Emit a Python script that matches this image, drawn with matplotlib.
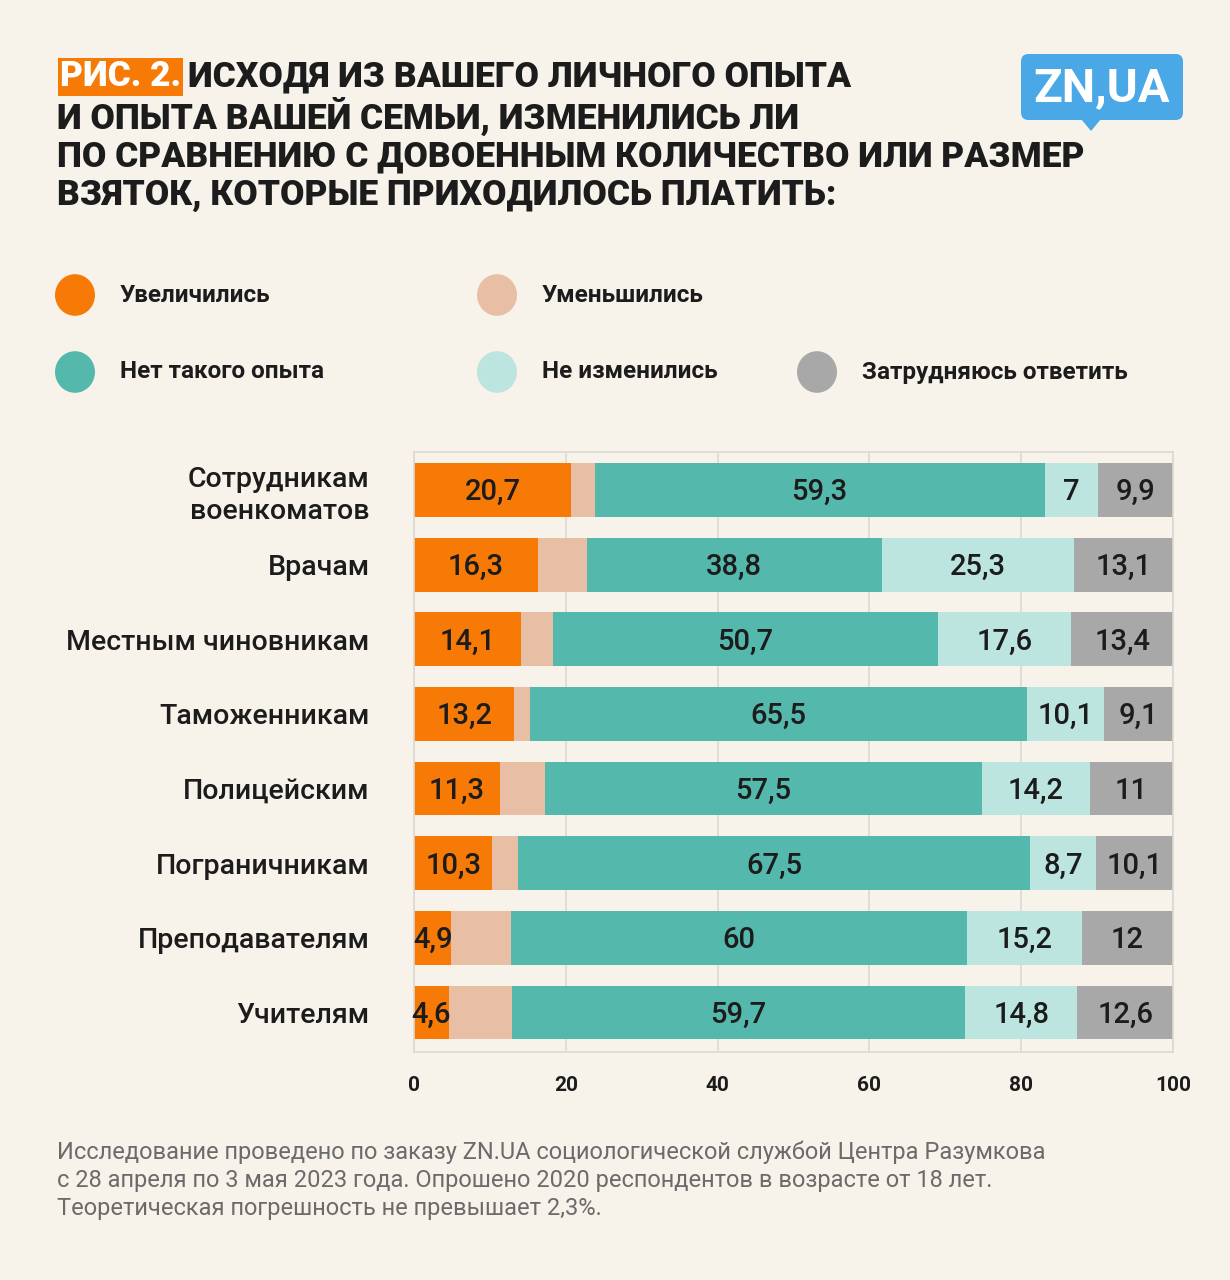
import matplotlib
matplotlib.use("Agg")
import matplotlib.pyplot as plt
from matplotlib.patches import FancyBboxPatch, Polygon, Circle

plt.rcParams['font.family'] = ['Roboto', 'DejaVu Sans']

# data (percent); "decreased" is the unlabeled remainder
categories = ["Сотрудникам\nвоенкоматов", "Врачам", "Местным чиновникам", "Таможенникам",
              "Полицейским", "Пограничникам", "Преподавателям", "Учителям"]
increased = [20.7, 16.3, 14.1, 13.2, 11.3, 10.3, 4.9, 4.6]
decreased = [3.1, 6.5, 4.2, 2.1, 6.0, 3.4, 7.9, 8.3]
no_exp = [59.3, 38.8, 50.7, 65.5, 57.5, 67.5, 60, 59.7]
unchanged = [7, 25.3, 17.6, 10.1, 14.2, 8.7, 15.2, 14.8]
hard = [9.9, 13.1, 13.4, 9.1, 11, 10.1, 12, 12.6]

series_names = ["Увеличились", "Уменьшились", "Нет такого опыта", "Не изменились", "Затрудняюсь ответить"]
series = [increased, decreased, no_exp, unchanged, hard]
colors = ["#f77a06", "#e8bea5", "#55b8ac", "#bce5e0", "#a8a8a8"]
show_label = [True, False, True, True, True]
ticks = [0, 20, 40, 60, 80, 100]

BG = "#f7f2ea"
DARK = "#1c1c1c"
W, H = 1230, 1280

fig = plt.figure(figsize=(W / 100, H / 100), dpi=100, facecolor=BG)

def fx(x):
  return x / W

def fy(y):
  return 1 - y / H

# title
fig.text(fx(60), fy(77), "РИС. 2.", color="white", fontsize=25.5, fontweight="heavy",
         va="center", ha="left",
         bbox=dict(boxstyle="square,pad=0.06", fc="#f77a06", ec="none"))
title_lines = ["ИСХОДЯ ИЗ ВАШЕГО ЛИЧНОГО ОПЫТА",
               "И ОПЫТА ВАШЕЙ СЕМЬИ, ИЗМЕНИЛИСЬ ЛИ",
               "ПО СРАВНЕНИЮ С ДОВОЕННЫМ КОЛИЧЕСТВО ИЛИ РАЗМЕР",
               "ВЗЯТОК, КОТОРЫЕ ПРИХОДИЛОСЬ ПЛАТИТЬ:"]
title_y = [77, 116, 157, 196]
for i, (line, yy) in enumerate(zip(title_lines, title_y)):
  fig.text(fx(188 if i == 0 else 57), fy(yy), line, color=DARK, fontsize=25.5,
           fontweight="heavy", va="center", ha="left")

# logo
logo = FancyBboxPatch((fx(1021), fy(120)), fx(162), 66 / H,
                      boxstyle="round,pad=0,rounding_size=0.006",
                      transform=fig.transFigure, fc="#4aa8e6", ec="none")
fig.patches.append(logo)
fig.patches.append(Polygon([(fx(1081), fy(119)), (fx(1101), fy(119)), (fx(1091), fy(131))],
                           closed=True, transform=fig.transFigure, fc="#4aa8e6", ec="none"))
fig.text(fx(1102), fy(88), "ZN,UA", color="white", fontsize=34, fontweight="bold",
         ha="center", va="center")

# legend
leg_pos = [(75, 295), (497, 295), (75, 372), (497, 372), (817, 372)]
for (lx, ly), name, c in zip(leg_pos, series_names, colors):
  fig.patches.append(Circle((fx(lx), fy(ly)), 20 / W, transform=fig.transFigure,
                            fc=c, ec="none"))
  fig.text(fx(lx + 45), fy(ly), name, color=DARK, fontsize=17.5, fontweight="bold",
           ha="left", va="center")

# chart
ax = fig.add_axes([fx(414), fy(1052), fx(1173) - fx(414), (1052 - 452) / H])
ax.set_facecolor(BG)
y = list(range(len(categories)))
left = [0.0] * len(categories)
for vals, c, lab in zip(series, colors, show_label):
  ax.barh(y, vals, left=left, height=0.72, color=c, zorder=2)
  if lab:
    for i, v in enumerate(vals):
      txt = f"{v:g}".replace(".", ",")
      ax.text(left[i] + v / 2, i + 0.03, txt, ha="center", va="center",
              fontsize=21, fontweight="medium", color=DARK, zorder=3)
  left = [l + v for l, v in zip(left, vals)]

ax.set_xlim(0, 100)
ax.set_ylim(len(categories) - 0.47, -0.51)
ax.set_xticks(ticks)
ax.set_xticklabels([str(t) for t in ticks], fontsize=15, fontweight="bold", color=DARK)
ax.set_yticks(y)
ax.set_yticklabels(categories, fontsize=20.5, fontweight="medium", color=DARK,
                   linespacing=1.25)
ax.tick_params(axis="x", length=0, pad=17)
ax.tick_params(axis="y", length=0, pad=32)
ax.grid(axis="x", color="#dcd8d2", linewidth=1.2, zorder=0)
for s in ax.spines.values():
  s.set_color("#dcd8d2")
  s.set_linewidth(1.2)

# footer
footer = ["Исследование проведено по заказу ZN.UA социологической службой Центра Разумкова",
          "с 28 апреля по 3 мая 2023 года. Опрошено 2020 респондентов в возрасте от 18 лет.",
          "Теоретическая погрешность не превышает 2,3%."]
for line, yy in zip(footer, [1152, 1181, 1209]):
  fig.text(fx(57), fy(yy), line, color="#6b6b6b", fontsize=17, ha="left", va="center")

fig.savefig("out.png", dpi=100, facecolor=BG)
